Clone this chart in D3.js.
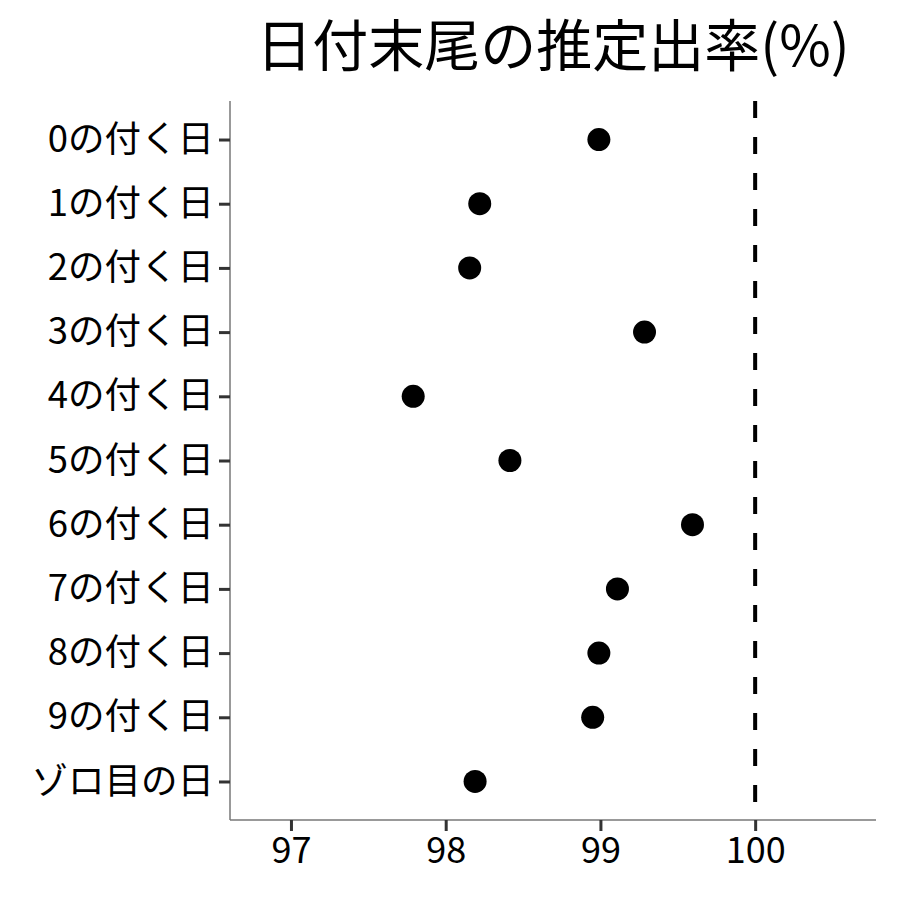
<!DOCTYPE html>
<html>
<head>
  <meta charset="utf-8">
  <script src="https://d3js.org/d3.v7.min.js"></script>
  <style>
    body { margin: 0; background: #fff; }
    text { font-family: "Noto Sans CJK JP", sans-serif; }
  </style>
</head>
<body>
<script>
  // data
  var categories = ["0の付く日", "1の付く日", "2の付く日", "3の付く日", "4の付く日",
                    "5の付く日", "6の付く日", "7の付く日", "8の付く日", "9の付く日", "ゾロ目の日"];
  var rates = [98.99, 98.22, 98.155, 99.285, 97.79, 98.415, 99.595, 99.11, 98.99, 98.95, 98.19];
  var xTicks = [97, 98, 99, 100];
  var refLine = 100;
  var title = "日付末尾の推定出率(%)";

  var width = 900, height = 900;
  var plotLeft = 230, plotRight = 876, plotTop = 101, plotBottom = 820;

  var svg = d3.select("body").append("svg")
      .attr("width", width)
      .attr("height", height);

  var x = d3.scaleLinear()
      .domain([96.606, 100.781])
      .range([plotLeft, plotRight]);

  var y = d3.scalePoint()
      .domain(categories)
      .range([plotTop, plotBottom])
      .padding(0.6);

  // title
  svg.append("text")
      .attr("x", (plotLeft + plotRight) / 2)
      .attr("y", 66)
      .attr("text-anchor", "middle")
      .style("font-size", "56px")
      .style("fill", "#000")
      .text(title);

  // x axis
  var xAxis = svg.append("g")
      .attr("transform", "translate(0," + plotBottom + ")")
      .call(d3.axisBottom(x).tickValues(xTicks).tickSize(11).tickPadding(6).tickFormat(d3.format("d")));
  xAxis.select(".domain").attr("stroke", "#777").attr("stroke-width", 1.5)
      .attr("d", "M" + plotLeft + ",0H" + plotRight);
  xAxis.selectAll(".tick line").attr("stroke", "#333").attr("stroke-width", 3);
  xAxis.selectAll(".tick text").style("font-size", "36px").style("fill", "#000")
      .attr("font-family", null);

  // y axis
  var yAxis = svg.append("g")
      .attr("transform", "translate(" + plotLeft + ",0)")
      .call(d3.axisLeft(y).tickSize(11).tickPadding(5));
  yAxis.select(".domain").attr("stroke", "#777").attr("stroke-width", 1.5)
      .attr("d", "M0," + plotTop + "V" + plotBottom);
  yAxis.selectAll(".tick line").attr("stroke", "#333").attr("stroke-width", 3);
  yAxis.selectAll(".tick text").style("font-size", "36.5px").style("fill", "#000")
      .attr("font-family", null);

  // reference line
  svg.append("line")
      .attr("x1", x(refLine)).attr("x2", x(refLine))
      .attr("y1", plotTop).attr("y2", plotBottom)
      .attr("stroke", "#000")
      .attr("stroke-width", 4)
      .attr("stroke-dasharray", "17,19");

  // points
  svg.selectAll("circle.pt")
      .data(categories)
      .enter()
      .append("circle")
      .attr("class", "pt")
      .attr("cx", function(d, i) { return x(rates[i]); })
      .attr("cy", function(d) { return y(d); })
      .attr("r", 11.5)
      .attr("fill", "#000");
</script>
</body>
</html>
